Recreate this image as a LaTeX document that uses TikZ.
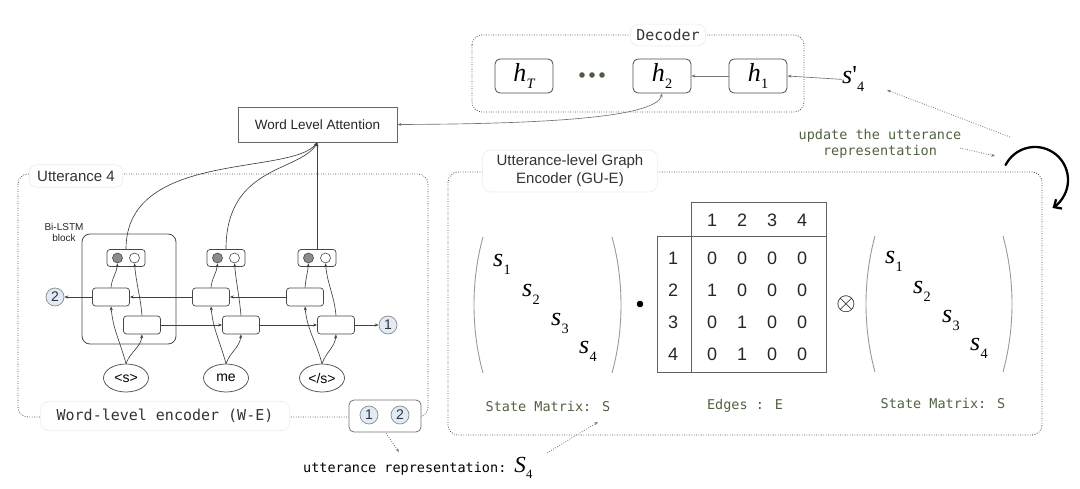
\documentclass[tikz,border=0pt]{standalone}
\usepackage{graphicx}
\usepackage{fontspec}
\setmainfont{Liberation Sans}
\newfontfamily\mono{DejaVu Sans Mono}
\newfontfamily\tms{Liberation Serif}
\usetikzlibrary{arrows.meta,calc,shapes.geometric}
\definecolor{txtgreen}{RGB}{80,98,64}
\definecolor{dotgreen}{RGB}{78,94,62}
\definecolor{numfill}{RGB}{226,234,245}
\newcommand\mysub[3][0.55]{{\tms\itshape #2}\kern0.3pt\raisebox{-0.3em}{\scalebox{#1}{\tms #3}}}
\begin{document}
\begin{tikzpicture}[x=1pt,y=-1pt,
  ln/.style={draw=black!75, line width=0.65pt},
  arr/.style={ln, -{Stealth[length=4pt,width=3pt]}},
  garr/.style={draw=black!55, line width=0.65pt, -{Stealth[length=4pt,width=3pt]}},
  dotarr/.style={draw=black!55, line width=0.8pt, dash pattern=on 0.8pt off 1.6pt, -{Stealth[length=4pt,width=3pt]}},
  dotbox/.style={draw=black!70, line width=0.8pt, dash pattern=on 0.8pt off 1.6pt, rounded corners=10pt},
  lstm/.style={draw=black!72, line width=0.7pt, rounded corners=3pt, fill=white, minimum width=37pt, minimum height=18pt, inner sep=0pt},
  outb/.style={draw=black!72, line width=0.7pt, rounded corners=3pt, fill=white, minimum width=38pt, minimum height=17pt, inner sep=0pt},
  dotc/.style={circle, draw=black!72, line width=0.6pt, minimum size=10pt, inner sep=0pt},
  hbox/.style={draw=black!70, line width=0.8pt, rounded corners=5pt, minimum width=58pt, minimum height=34pt, inner sep=0pt, font=\fontsize{26}{26}\selectfont},
  num/.style={circle, draw=black!45, fill=numfill, line width=0.7pt, minimum size=18pt, inner sep=0pt, font=\fontsize{14}{14}\selectfont, text=black!80},
  word/.style={ellipse, draw=black!72, line width=0.7pt, minimum width=45pt, minimum height=28pt, inner sep=0pt, font=\fontsize{14}{14}\selectfont},
  tab/.style={fill=white, draw=black!8, rounded corners=8pt, line width=0.6pt, text=black!80},
  gtxt/.style={text=txtgreen, font=\mono\fontsize{13.5}{16}\selectfont},
  dig/.style={font=\fontsize{18}{18}\selectfont, text=black!85, inner sep=0pt},
  sv/.style={anchor=base west, inner sep=0pt, font=\fontsize{26}{26}\selectfont},
  paren/.style={draw=black!40, line width=0.9pt},
  mbox/.style={draw=black!62, line width=0.8pt}
]
\useasboundingbox (0,0) rectangle (1080,489);

% ---------------- Decoder ----------------
\draw[dotbox] (472,35) rectangle (804,112);
\node[tab, font=\mono\fontsize{15}{15}\selectfont, inner xsep=6pt, inner ysep=5pt] (dec) at (668,35) {Decoder};
\node[hbox] (hT) at (524,76) {\mysub{h}{\itshape T}};
\node[hbox] (h2) at (662,76) {\mysub{h}{2}};
\node[hbox] (h1) at (758,76) {\mysub{h}{1}};
\foreach \dx in {582,592,602} \fill[dotgreen] (\dx,75) circle (2.8);
\node[sv] (sp) at (842,84) {{\tms\itshape s}{\tms\textquotesingle}\raisebox{-0.3em}{\scalebox{0.55}{\tms 4}}};
\draw[garr] (sp.west) -- (h1.east);
\draw[garr] (h1.west) -- (h2.east);

% ---------------- Word level attention ----------------
\node[draw=black!60, line width=0.7pt, minimum width=159pt, minimum height=35pt, inner sep=0pt, font=\fontsize{13.5}{14}\selectfont, text=black!85] (wla) at (317.5,124.5) {Word Level Attention};
\draw[garr, {Stealth[length=4pt,width=3pt]}-{Stealth[length=4pt,width=3pt]}] (h2.south) .. controls (656,118) and (540,124) .. (wla.east);

% ---------------- Utterance 4 ----------------
\draw[dotbox] (18,174) rectangle (428,417);
\node[tab, font=\fontsize{15}{15}\selectfont, inner xsep=8pt, inner ysep=6pt] (ut) at (76,176) {Utterance 4};
\node[tab, font=\mono\fontsize{15}{15}\selectfont, inner xsep=16pt, inner ysep=8pt] (we) at (165,416) {Word-level encoder (W-E)};
\node[font=\fontsize{10}{11}\selectfont, align=center, inner sep=0pt, text=black!85] (bil) at (64,232) {Bi-LSTM\\block};
\draw[draw=black!70, line width=0.8pt, rounded corners=8pt] (82,234) rectangle (176,344);

% output boxes
\foreach \i/\x in {1/126,2/226,3/317}{
  \node[outb] (o\i) at (\x,258) {};
  \node[dotc, fill=black!45] (o\i a) at (\x-8.5,258) {};
  \node[dotc, fill=white] (o\i b) at (\x+8.5,258) {};
}
% lstm cells
\node[lstm] (b1) at (111,297) {};
\node[lstm] (b2) at (211,297) {};
\node[lstm] (b3) at (305,297) {};
\node[lstm] (f1) at (142,325) {};
\node[lstm] (f2) at (241,325) {};
\node[lstm] (f3) at (336,325) {};
\node[num] (n2) at (55,297) {2};
\node[num] (n1) at (388,325) {1};
\node[word] (w1) at (126,378) {<s>};
\node[word] (w2) at (226,378) {me};
\node[word] (w3) at (322,378) {</s>};

\foreach \i in {1,2,3}{
  \draw[arr] (w\i.north) to[out=105,in=-85] (b\i.south);
  \draw[arr] (w\i.north) to[out=70,in=-95] (f\i.south);
  \draw[arr] (b\i.north) to[out=85,in=-95] (o\i a.south);
  \draw[arr] (f\i.north) to[out=95,in=-85] (o\i b.south);
}
\draw[arr] (f1) -- (f2);
\draw[arr] (f2) -- (f3);
\draw[arr] (f3) -- (n1);
\draw[arr] (b3) -- (b2);
\draw[arr] (b2) -- (b1);
\draw[arr] (b1) -- (n2);

\draw[arr] (o1.north) .. controls (126,150) and (290,176) .. (wla.south);
\draw[arr] (o2.north) .. controls (226,165) and (300,172) .. (wla.south);
\draw[arr] (o3.north) -- (o3.north |- wla.south);

% 1 2 box
\node[draw=black!55, line width=0.8pt, rounded corners=5pt, fill=white, minimum width=72pt, minimum height=32pt] (box12) at (385,416) {};
\node[num] (c1) at (369,415) {1};
\node[num] (c2) at (400,415) {2};

\node[anchor=base west, inner sep=0pt] (urep) at (303,472) {{\mono\fontsize{13.5}{16}\selectfont utterance representation:}\hspace{8pt}{\fontsize{23}{23}\selectfont\mysub{S}{4}}};
\coordinate (ua) at (399,452);
\draw[dotarr] ($(box12.south)+(1,1)$) -- (ua);

% ---------------- GU-E ----------------
\draw[dotbox] (448,172) rectangle (1042,435);
\node[tab, font=\fontsize{15}{18}\selectfont, align=center, inner xsep=14pt, inner ysep=5pt] (gue) at (570,171) {Utterance-level Graph\\Encoder (GU-E)};

% left state matrix
\draw[paren] (483,237) .. controls (471,280) and (471,330) .. (483,373);
\draw[paren] (612,237) .. controls (624,280) and (624,330) .. (612,373);
\node[sv] (sa1) at (493,267) {\mysub{s}{1}};
\node[sv] (sa2) at (522,297) {\mysub{s}{2}};
\node[sv] (sa3) at (551,326) {\mysub{s}{3}};
\node[sv] (sa4) at (579,354) {\mysub{s}{4}};
\fill[black] (640,304) circle (3.3);

% edges matrix
\draw[mbox] (691,202) rectangle (826,236);
\draw[mbox] (657,236) rectangle (691,372);
\draw[mbox] (691,236) rectangle (826,372);
\foreach \c/\x in {1/712,2/742,3/772,4/802} \node[dig] (hd\c) at (\x,220) {\c};
\foreach \r/\y in {1/258,2/290,3/322,4/354} \node[dig] (rw\r) at (673,\y) {\r};
\foreach \r/\y/\a/\b/\cc/\d in {1/258/0/0/0/0, 2/290/1/0/0/0, 3/322/0/1/0/0, 4/354/0/1/0/0}{
  \node[dig] (e\r1) at (712,\y) {\a};
  \node[dig] (e\r2) at (742,\y) {\b};
  \node[dig] (e\r3) at (772,\y) {\cc};
  \node[dig] (e\r4) at (802,\y) {\d};
}
\node[font=\fontsize{26}{26}\selectfont, inner sep=0pt] (otm) at (846,304) {$\otimes$};

% right state matrix
\draw[paren] (875,236) .. controls (863,280) and (863,328) .. (875,372);
\draw[paren] (1003,236) .. controls (1015,280) and (1015,328) .. (1003,372);
\node[sv] (sb1) at (885,264) {\mysub{s}{1}};
\node[sv] (sb2) at (913,294) {\mysub{s}{2}};
\node[sv] (sb3) at (942,323) {\mysub{s}{3}};
\node[sv] (sb4) at (970,351) {\mysub{s}{4}};

\node[gtxt] (sm1) at (548,406) {State Matrix: S};
\node[gtxt] (edg) at (745,406) {Edges : E};
\node[gtxt] (sm2) at (943,403) {State Matrix: S};

\coordinate (sa) at (547,453);
\coordinate (sb) at (598,422);
\draw[dotarr] (sa) -- (sb);

% update
\node[gtxt, align=center] (upd) at (880,144) {update the utterance\\representation};
\coordinate (d1) at (1010,137);
\coordinate (d2) at (887,90);
\draw[dotarr] (d1) -- (d2);
\coordinate (d3) at (960,148);
\coordinate (d4) at (995,156);
\draw[dotarr] (d3) -- (d4);
\draw[line width=2.3pt, line cap=round, -{Straight Barb[length=6pt,width=11pt,line width=2.3pt]}] (1005.6,165) arc[start angle=-153, end angle=58, radius=33];
\end{tikzpicture}
\end{document}
